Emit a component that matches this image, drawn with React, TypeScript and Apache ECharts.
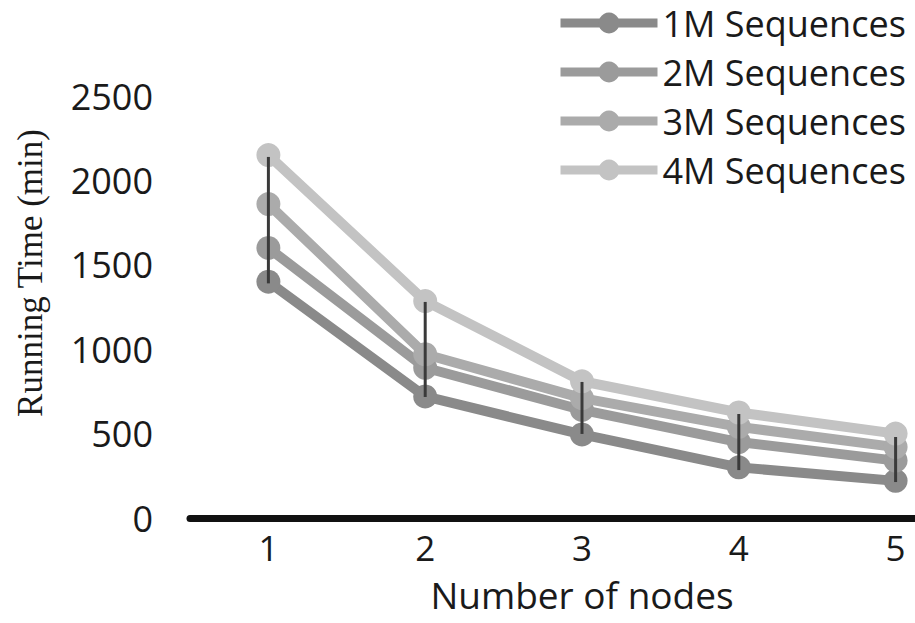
import React, { useEffect, useRef } from "react";
import * as echarts from "echarts";

const categories = ["1", "2", "3", "4", "5"];
const seriesNames = ["1M Sequences", "2M Sequences", "3M Sequences", "4M Sequences"];
const seq1M = [1400, 720, 495, 300, 220];
const seq2M = [1600, 890, 640, 450, 340];
const seq3M = [1860, 970, 710, 540, 420];
const seq4M = [2150, 1285, 810, 625, 500];
const errLow = [1390, 717, 498, 284, 213];
const errHigh = [2139, 1280, 806, 616, 480];
const colors = ["#8a8a8a", "#9b9b9b", "#ababab", "#c3c3c3"];
const yAxisTitle = "Running Time (min)";
const xAxisTitle = "Number of nodes";

export default function App() {
  const ref = useRef<HTMLDivElement>(null);
  useEffect(() => {
    if (!ref.current) return;
    const chart = echarts.init(ref.current, null, { renderer: "svg" });
    const allSeries = [seq1M, seq2M, seq3M, seq4M];
    const lineSeries = allSeries.map((d, i) => ({
      name: seriesNames[i],
      type: "line",
      data: d,
      symbol: "circle",
      symbolSize: 24,
      lineStyle: { width: 10, color: colors[i] },
      itemStyle: { color: colors[i] },
      z: 2 + i,
    }));
    const errData = categories.map((c, i) => [i, errLow[i], errHigh[i]]);
    chart.setOption({
      animation: false,
      backgroundColor: "#ffffff",
      textStyle: { fontFamily: "Open Sans" },
      grid: { left: 190, right: 0, top: 96, bottom: 105, containLabel: false },
      legend: {
        data: seriesNames,
        orient: "vertical",
        left: 551,
        top: 0,
        itemWidth: 97,
        itemHeight: 26,
        itemGap: 13,
        lineStyle: { width: 9 },
        textStyle: { fontFamily: "Open Sans", fontSize: 36, color: "#1a1a1a", lineHeight: 30 },
      },
      xAxis: {
        type: "category",
        data: categories,
        boundaryGap: true,
        axisLine: { show: true, lineStyle: { color: "#111111", width: 7 } },
        axisTick: { show: false },
        axisLabel: { fontFamily: "Open Sans", fontSize: 35, color: "#1a1a1a", margin: 12 },
        name: xAxisTitle,
        nameLocation: "middle",
        nameGap: 58,
        nameTextStyle: { fontFamily: "Open Sans", fontSize: 37, color: "#1a1a1a", lineHeight: 37 },
        splitLine: { show: false },
      },
      yAxis: {
        type: "value",
        min: 0,
        max: 2500,
        interval: 500,
        axisLine: { show: false },
        axisTick: { show: false },
        splitLine: { show: false },
        axisLabel: {
          fontFamily: "Open Sans",
          fontSize: 36,
          color: "#1a1a1a",
          margin: 37,
          formatter: (v: number) => String(v),
        },
      },
      graphic: [
        {
          type: "text",
          x: 30,
          y: 273,
          rotation: Math.PI / 2,
          style: {
            text: yAxisTitle,
            fontFamily: "Liberation Serif",
            fontSize: 35,
            fill: "#1a1a1a",
            textAlign: "center",
            textVerticalAlign: "middle",
          },
        },
      ],
      series: [
        ...lineSeries,
        {
          name: "error",
          type: "custom",
          data: errData,
          encode: { x: 0, y: [1, 2] },
          z: 10,
          renderItem: (params: any, api: any) => {
            const lo = api.coord([api.value(0), api.value(1)]);
            const hi = api.coord([api.value(0), api.value(2)]);
            return {
              type: "line",
              shape: { x1: lo[0], y1: lo[1], x2: hi[0], y2: hi[1] },
              style: { stroke: "#3a3a3a", lineWidth: 3 },
            };
          },
        },
      ],
    });
    return () => chart.dispose();
  }, []);
  return (
    <div style={{ width: 915, height: 623, position: "absolute", left: 0, top: 0, overflow: "hidden", background: "#fff" }}>
      <div ref={ref} style={{ width: 974, height: 623, position: "absolute", left: 0, top: 0 }} />
    </div>
  );
}
